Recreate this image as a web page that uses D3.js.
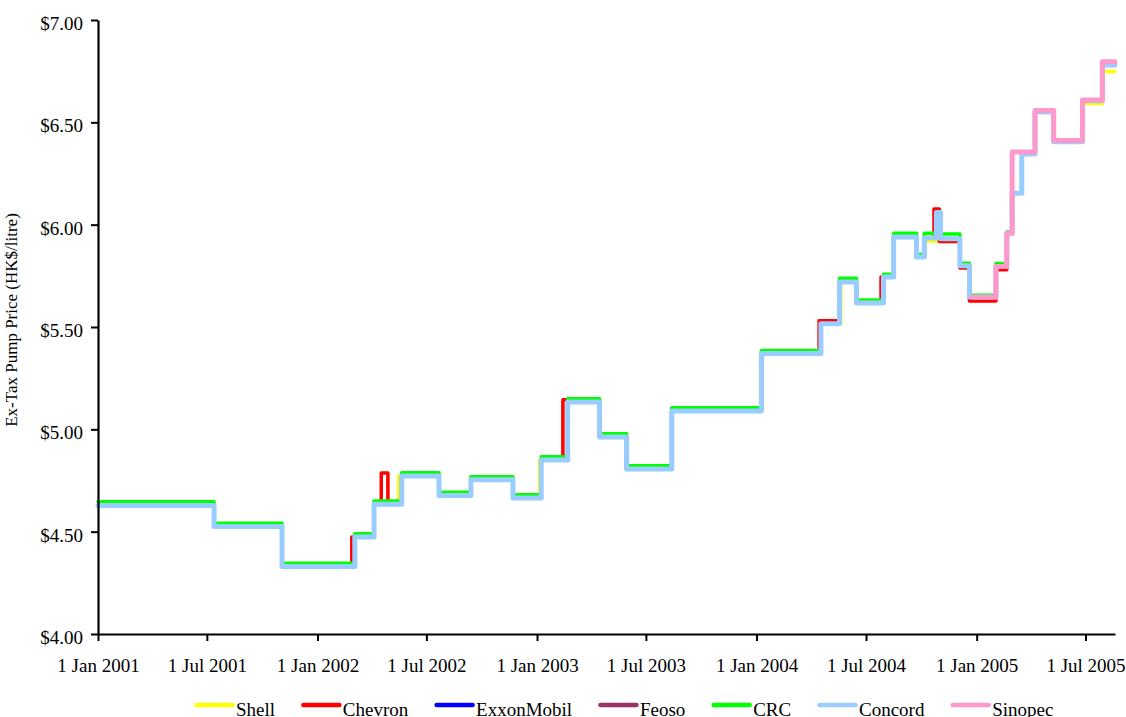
<!DOCTYPE html>
<html>
<head>
<meta charset="utf-8">
<script src="https://cdn.jsdelivr.net/npm/d3@7"></script>
<style>
  body { margin: 0; background: #ffffff; }
  svg { display: block; }
  text { font-family: "Liberation Serif", "Times New Roman", serif; fill: #000; }
</style>
</head>
<body>
<svg id="chart" width="1126" height="717"></svg>
<script>
// ---------------- DATA ----------------
const seriesNames = ["Shell", "Chevron", "ExxonMobil", "Feoso", "CRC", "Concord", "Sinopec"];
const seriesColors = ["#FFFF00", "#FF0000", "#0000FF", "#993366", "#00FF00", "#99CCFF", "#FF99CC"];

// dates on which any company changed its price (price holds until next date)
const changeDates = [
  "2001-01-01","2001-07-13","2001-11-03","2002-02-27","2002-03-04","2002-04-05","2002-04-17","2002-04-28","2002-05-16","2002-05-21",
  "2002-07-22","2002-09-13","2002-11-22","2003-01-05","2003-01-08","2003-02-13","2003-02-21","2003-04-15","2003-05-30","2003-08-13",
  "2004-01-09","2004-04-14","2004-04-17","2004-05-18","2004-05-20","2004-06-15","2004-07-26","2004-07-30","2004-08-16","2004-09-23",
  "2004-10-06","2004-10-22","2004-10-26","2004-10-31","2004-11-02","2004-12-04","2004-12-20","2004-12-24","2005-02-02","2005-02-20",
  "2005-03-01","2005-03-17","2005-04-08","2005-05-09","2005-06-26","2005-07-29","2005-08-19"
];

const shellPrices = [
  4.628,4.525,4.330,4.330,4.474,4.634,4.634,4.634,4.772,4.772,
  4.677,4.754,4.664,4.850,4.850,4.850,5.134,4.963,4.806,5.090,
  5.370,5.370,5.516,5.516,5.720,5.617,5.617,5.744,5.940,5.842,
  5.920,5.920,6.059,6.059,5.931,5.799,5.647,5.647,5.795,5.958,
  6.153,6.345,6.550,6.405,6.592,6.748,6.748
];
const chevronPrices = [
  4.628,4.525,4.330,4.474,4.474,4.634,4.787,4.634,4.634,4.772,
  4.677,4.754,4.664,4.664,4.850,5.145,5.134,4.963,4.806,5.090,
  5.370,5.530,5.530,5.720,5.720,5.617,5.744,5.744,5.940,5.842,
  5.935,6.077,6.077,5.918,5.918,5.788,5.627,5.627,5.780,5.958,
  6.153,6.345,6.550,6.405,6.605,6.780,6.780
];
const exxonPrices = [
  4.628,4.525,4.330,4.330,4.474,4.634,4.634,4.634,4.634,4.772,
  4.677,4.754,4.664,4.664,4.850,4.850,5.134,4.963,4.806,5.090,
  5.370,5.370,5.516,5.720,5.720,5.617,5.617,5.744,5.940,5.842,
  5.935,5.935,6.059,6.059,5.931,5.799,5.647,5.647,5.795,5.958,
  6.153,6.345,6.550,6.405,6.605,6.780,6.780
];
const feosoPrices = [
  4.628,4.525,4.330,4.330,4.474,4.634,4.634,4.634,4.634,4.772,
  4.677,4.754,4.664,4.664,4.850,4.850,5.134,4.963,4.806,5.090,
  5.370,5.370,5.516,5.720,5.720,5.617,5.617,5.744,5.940,5.842,
  5.935,5.935,6.059,6.059,5.931,5.799,5.647,5.647,5.795,5.958,
  6.153,6.345,6.550,6.405,6.605,6.780,6.780
];
const crcPrices = [
  4.646,4.541,4.346,4.346,4.490,4.650,4.650,4.650,4.650,4.788,
  4.693,4.768,4.680,4.680,4.866,4.866,5.150,4.978,4.822,5.105,
  5.385,5.385,5.516,5.738,5.738,5.632,5.632,5.758,5.958,5.855,
  5.958,5.958,6.059,6.059,5.955,5.812,5.655,5.655,5.810,5.966,
  6.153,6.345,6.550,6.405,6.605,6.780,6.780
];
const concordPrices = [
  4.628,4.525,4.330,4.330,4.474,4.634,4.634,4.634,4.634,4.772,
  4.677,4.754,4.664,4.664,4.850,4.850,5.134,4.963,4.806,5.090,
  5.370,5.370,5.516,5.720,5.720,5.617,5.617,5.744,5.940,5.842,
  5.935,5.935,6.059,6.059,5.931,5.799,5.647,5.647,5.795,5.958,
  6.153,6.345,6.550,6.405,6.605,6.780,6.780
];
const sinopecPrices = [
  null,null,null,null,null,null,null,null,null,null,
  null,null,null,null,null,null,null,null,null,null,
  null,null,null,null,null,null,null,null,null,null,
  null,null,null,null,null,null,null,5.645,5.795,5.958,
  6.355,6.355,6.558,6.411,6.609,6.796,6.796
];

const yTickValues = [4.00, 4.50, 5.00, 5.50, 6.00, 6.50, 7.00];
const xDomain = ["2001-01-01", "2005-08-19"];
const yTitle = "Ex-Tax Pump Price (HK$/litre)";

// ---------------- CHART ----------------
const parse = d3.timeParse("%Y-%m-%d");
const dates = changeDates.map(parse);
const allPrices = [shellPrices, chevronPrices, exxonPrices, feosoPrices, crcPrices, concordPrices, sinopecPrices];
const widths = [3.5, 3.5, 3.5, 3.5, 3.5, 5, 5];

const svg = d3.select("#chart");
const x = d3.scaleTime().domain(xDomain.map(parse)).range([98, 1115]);
const y = d3.scaleLinear().domain([4, 7]).range([634, 20]);

// lines
const line = d3.line()
  .defined(d => d.v !== null)
  .x(d => x(d.date))
  .y(d => y(d.v))
  .curve(d3.curveStepAfter);

const linesG = svg.append("g");
allPrices.forEach((arr, i) => {
  const pts = dates.map((dt, k) => ({ date: dt, v: arr[k] }));
  linesG.append("path")
    .datum(pts)
    .attr("fill", "none")
    .attr("stroke", seriesColors[i])
    .attr("stroke-width", widths[i])
    .attr("stroke-linejoin", "round")
    .attr("stroke-linecap", "round")
    .attr("d", line);
});

// y axis
const yAxis = svg.append("g")
  .attr("transform", "translate(98,0)")
  .call(d3.axisLeft(y).tickValues(yTickValues)
    .tickFormat(d => "$" + d.toFixed(2))
    .tickSizeInner(7).tickSizeOuter(0).tickPadding(8));
yAxis.select(".domain").attr("stroke", "#000").attr("stroke-width", 2.2);
yAxis.selectAll(".tick line").attr("stroke", "#000").attr("stroke-width", 2);
yAxis.selectAll(".tick text")
  .attr("dy", "0.5em")
  .style("font-size", "19px")
  .style("font-family", "'Liberation Serif', serif");

// x axis
const xAxis = svg.append("g")
  .attr("transform", "translate(0,634)")
  .call(d3.axisBottom(x).ticks(d3.timeMonth.every(6))
    .tickFormat(d3.timeFormat("%-d %b %Y"))
    .tickSizeInner(7).tickSizeOuter(0));
xAxis.select(".domain").attr("stroke", "#000").attr("stroke-width", 2);
xAxis.selectAll(".tick line").attr("stroke", "#000").attr("stroke-width", 2);
xAxis.selectAll(".tick text")
  .attr("y", 38).attr("dy", 0)
  .style("font-size", "19px")
  .style("font-family", "'Liberation Serif', serif");

// y title
svg.append("text")
  .attr("transform", "translate(17,320) rotate(-90)")
  .attr("text-anchor", "middle")
  .style("font-size", "17px")
  .text(yTitle);

// legend
const legend = svg.append("g");
let lx = 196.5;
seriesNames.forEach((name, i) => {
  legend.append("line")
    .attr("x1", lx).attr("x2", lx + 36)
    .attr("y1", 705).attr("y2", 705)
    .attr("stroke", seriesColors[i])
    .attr("stroke-width", 4.5)
    .attr("stroke-linecap", "round");
  const t = legend.append("text")
    .attr("x", lx + 39.5)
    .attr("y", 716)
    .style("font-size", "19px")
    .text(name);
  lx = lx + 39.5 + t.node().getComputedTextLength() + 28.3;
});
</script>
</body>
</html>
